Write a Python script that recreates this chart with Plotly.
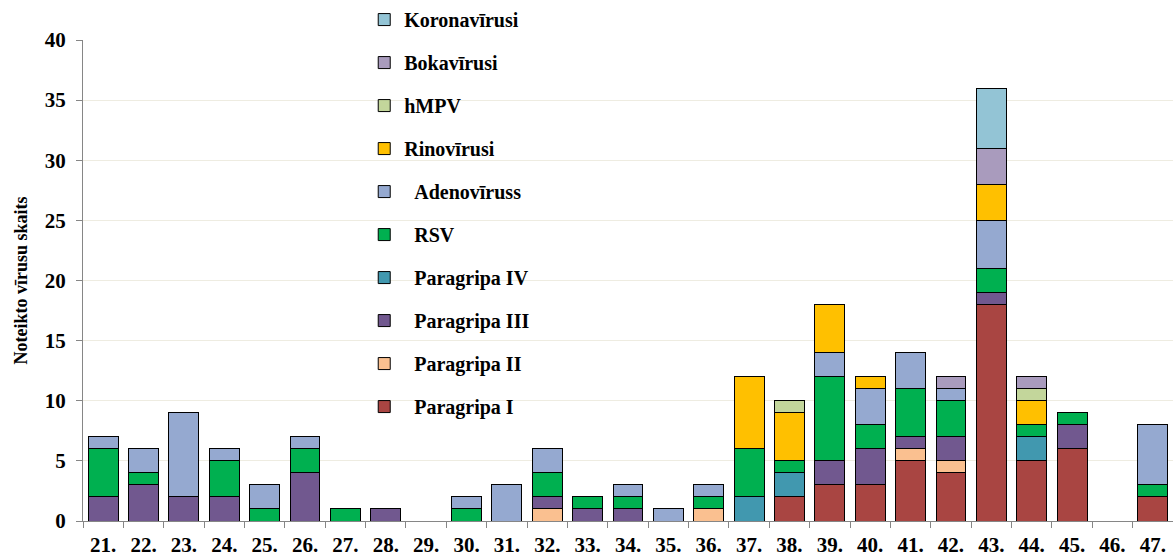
import plotly.graph_objects as go

weeks = ["21.", "22.", "23.", "24.", "25.", "26.", "27.", "28.", "29.", "30.", "31.", "32.", "33.", "34.",
         "35.", "36.", "37.", "38.", "39.", "40.", "41.", "42.", "43.", "44.", "45.", "46.", "47."]

#                 21 22 23 24 25 26 27 28 29 30 31 32 33 34 35 36 37 38 39 40 41 42 43 44 45 46 47
paragripa_1   = [0, 0, 0, 0, 0, 0, 0, 0, 0, 0, 0, 0, 0, 0, 0, 0, 0, 2, 3, 3, 5, 4, 18, 5, 6, 0, 2]
paragripa_2   = [0, 0, 0, 0, 0, 0, 0, 0, 0, 0, 0, 1, 0, 0, 0, 1, 0, 0, 0, 0, 1, 1, 0, 0, 0, 0, 0]
paragripa_3   = [2, 3, 2, 2, 0, 4, 0, 1, 0, 0, 0, 1, 1, 1, 0, 0, 0, 0, 2, 3, 1, 2, 1, 0, 2, 0, 0]
paragripa_4   = [0, 0, 0, 0, 0, 0, 0, 0, 0, 0, 0, 0, 0, 0, 0, 0, 2, 2, 0, 0, 0, 0, 0, 2, 0, 0, 0]
rsv           = [4, 1, 0, 3, 1, 2, 1, 0, 0, 1, 0, 2, 1, 1, 0, 1, 4, 1, 7, 2, 4, 3, 2, 1, 1, 0, 1]
adenovirus    = [1, 2, 7, 1, 2, 1, 0, 0, 0, 1, 3, 2, 0, 1, 1, 1, 0, 0, 2, 3, 3, 1, 4, 0, 0, 0, 5]
rinovirusi    = [0, 0, 0, 0, 0, 0, 0, 0, 0, 0, 0, 0, 0, 0, 0, 0, 6, 4, 4, 1, 0, 0, 3, 2, 0, 0, 0]
hmpv          = [0, 0, 0, 0, 0, 0, 0, 0, 0, 0, 0, 0, 0, 0, 0, 0, 0, 1, 0, 0, 0, 0, 0, 1, 0, 0, 0]
bokavirusi    = [0, 0, 0, 0, 0, 0, 0, 0, 0, 0, 0, 0, 0, 0, 0, 0, 0, 0, 0, 0, 0, 1, 3, 1, 0, 0, 0]
koronavirusi  = [0, 0, 0, 0, 0, 0, 0, 0, 0, 0, 0, 0, 0, 0, 0, 0, 0, 0, 0, 0, 0, 0, 5, 0, 0, 0, 0]

series_names = ["\u00a0\u00a0Paragripa I", "\u00a0\u00a0Paragripa II", "\u00a0\u00a0Paragripa III",
                "\u00a0\u00a0Paragripa IV", "\u00a0\u00a0RSV", "\u00a0\u00a0Adenovīruss", "Rinovīrusi",
                "hMPV", "Bokavīrusi", "Koronavīrusi"]
series_values = [paragripa_1, paragripa_2, paragripa_3, paragripa_4, rsv, adenovirus,
                 rinovirusi, hmpv, bokavirusi, koronavirusi]
colors = ["#A94542", "#FAC090", "#71588F", "#4198AF", "#00B050", "#95A9D0",
          "#FFC000", "#C3D69B", "#A99BBD", "#93C4D5"]

fig = go.Figure()
for i, (name, vals, col) in enumerate(zip(series_names, series_values, colors)):
    fig.add_trace(go.Bar(
        x=weeks, y=vals, name=name, legendgroup=f"g{i}", legendrank=1000 - i,
        marker=dict(color=col, line=dict(color="#000000", width=1)),
    ))

font_family = "Liberation Serif, Times New Roman, serif"

fig.update_layout(
    barmode="stack",
    bargap=0.26,
    width=1173, height=557,
    margin=dict(l=83, r=0, t=40, b=36, autoexpand=False),
    plot_bgcolor="white", paper_bgcolor="white",
    font=dict(family=font_family, color="black"),
    legend=dict(
        traceorder="grouped",
        x=0.258, y=1.083, xanchor="left", yanchor="top",
        font=dict(family=font_family, size=20, color="black", weight="bold"),
        tracegroupgap=14,
        maxheight=557,
        bgcolor="rgba(0,0,0,0)",
    ),
    xaxis=dict(
        type="category",
        tickson="boundaries",
        tickangle=0,
        ticks="outside", ticklen=6, tickcolor="#868686",
        ticklabelstandoff=5,
        showline=True, linecolor="#868686", linewidth=1,
        tickfont=dict(family=font_family, size=21, color="black", weight="bold"),
        showgrid=False,
    ),
    yaxis=dict(
        range=[0, 40], dtick=5,
        ticks="outside", ticklen=6, tickcolor="#868686",
        ticklabelstandoff=6,
        showline=True, linecolor="#868686", linewidth=1,
        showgrid=True, gridcolor="#EEECE1", gridwidth=1,
        zeroline=False,
        tickfont=dict(family=font_family, size=21, color="black", weight="bold"),
        title=dict(text="Noteikto vīrusu skaits",
                   font=dict(family=font_family, size=18, color="black", weight="bold"),
                   standoff=12),
    ),
)

fig.write_html("out.html", config={"displayModeBar": False},
               post_script="document.body.style.margin='0';")
